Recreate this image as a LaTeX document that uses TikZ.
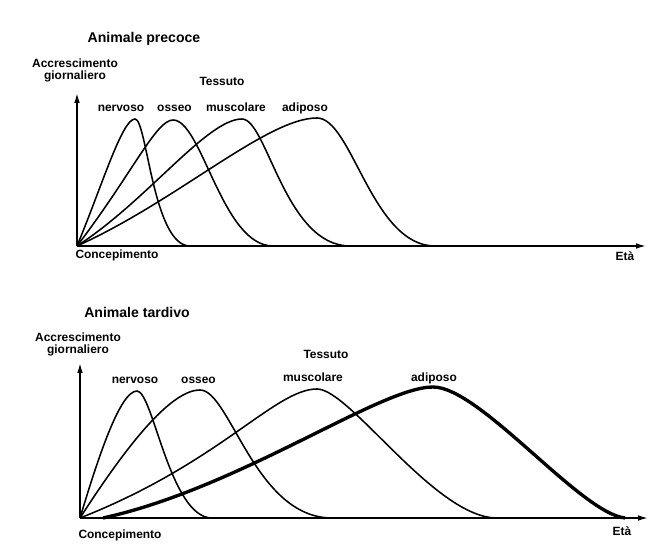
\documentclass[tikz,border=0pt]{standalone}
\usepackage{fontspec}
\setmainfont{Liberation Sans}
\usetikzlibrary{arrows.meta}

\begin{document}
\begin{tikzpicture}[x=0.25cm, y=0.25cm,
    asse/.style={line width=1.1pt, -{Latex[length=7pt, width=4pt]}},
    curva/.style={line width=1.1pt},
    curvaspessa/.style={line width=2.4pt},
    etichetta/.style={font=\fontsize{8.5}{8.5}\selectfont\bfseries, inner sep=0pt, text height=6.2pt, text depth=1.8pt},
    titolo/.style={font=\fontsize{10}{12}\selectfont\bfseries, inner sep=0pt}]
    \fill[white] (0,0) rectangle (65.2,54.5);
    \useasboundingbox (0,0) rectangle (65.2,54.5);

    % Animale precoce
    \begin{scope}[shift={(7.7,29.9)}]
        \coordinate (o1) at (0,0);
        \coordinate (y1) at (0,15.3);
        \coordinate (x1) at (56.9,0);
        \draw[asse] (o1) -- (y1);
        \draw[asse] (o1) -- (x1);
        \node[titolo] (tit1) at (6.7,20.7) {Animale precoce};
        \node[etichetta, align=center, text height=, text depth=] (acc1) at (-0.2,17.6) {Accrescimento\\giornaliero};
        \node[etichetta] (tes1) at (14.5,16.4) {Tessuto};
        \node[etichetta] (ner1) at (4.4,13.8) {nervoso};
        \node[etichetta] (oss1) at (9.75,13.8) {osseo};
        \node[etichetta] (mus1) at (15.9,13.8) {muscolare};
        \node[etichetta] (adi1) at (22.8,13.8) {adiposo};
        \node[etichetta] (con1) at (4.0,-0.9) {Concepimento};
        \node[etichetta] (eta1) at (54.8,-1.1) {Età};
        \draw[curva] (o1) .. controls (2.5,6) and (4.5,12.7) .. (5.8,12.7) .. controls (7.0,12.7) and (7.6,0) .. (11.3,0);
        \draw[curva] (o1) .. controls (5.5,7.2) and (7.9,12.6) .. (9.6,12.6) .. controls (12.5,12.6) and (14.5,0) .. (19.6,0);
        \draw[curva] (o1) .. controls (7,4.5) and (13,12.7) .. (16.5,12.7) .. controls (19,12.7) and (20.8,0) .. (27.3,0);
        \draw[curva] (o1) .. controls (10,4.5) and (19,12.8) .. (24,12.8) .. controls (27.5,12.8) and (29.5,0) .. (35.8,0);
    \end{scope}

    % Animale tardivo
    \begin{scope}[shift={(8.0,2.7)}]
        \coordinate (o2) at (0,0);
        \coordinate (y2) at (0,15.5);
        \coordinate (x2) at (56.8,0);
        \draw[asse] (o2) -- (y2);
        \draw[asse] (o2) -- (x2);
        \node[titolo] (tit2) at (5.7,20.6) {Animale tardivo};
        \node[etichetta, align=center, text height=, text depth=] (acc2) at (-0.2,17.4) {Accrescimento\\giornaliero};
        \node[etichetta] (tes2) at (24.6,16.3) {Tessuto};
        \node[etichetta] (ner2) at (5.5,13.8) {nervoso};
        \node[etichetta] (oss2) at (11.85,13.8) {osseo};
        \node[etichetta] (mus2) at (23.3,14.0) {muscolare};
        \node[etichetta] (adi2) at (35.4,14.0) {adiposo};
        \node[etichetta] (con2) at (4.0,-1.7) {Concepimento};
        \node[etichetta] (eta2) at (54.2,-1.4) {Età};
        \draw[curva] (o2) .. controls (1.8,6) and (4,12.7) .. (5.7,12.7) .. controls (7.3,12.7) and (9,0) .. (13.2,0);
        \draw[curva] (o2) .. controls (4.5,7) and (9,12.8) .. (12,12.8) .. controls (15,12.8) and (17.5,0) .. (25.2,0);
        \draw[curva] (o2) .. controls (14,5.5) and (19.5,12.9) .. (23.7,12.9) .. controls (27,12.9) and (35.5,0) .. (41.7,0);
        \draw[curvaspessa] (2.3,0) .. controls (16,3) and (30,13.1) .. (35.3,13.1) .. controls (40,13.1) and (50,0.5) .. (54.5,0);
    \end{scope}
\end{tikzpicture}
\end{document}
